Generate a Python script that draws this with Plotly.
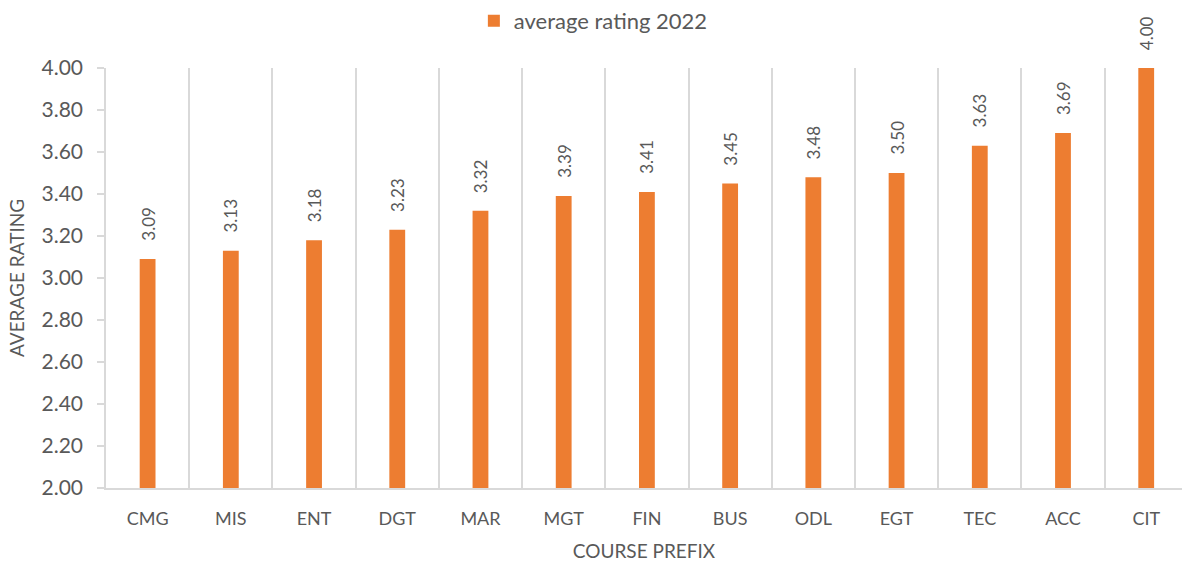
import plotly.graph_objects as go

categories = ["CMG", "MIS", "ENT", "DGT", "MAR", "MGT", "FIN", "BUS", "ODL", "EGT", "TEC", "ACC", "CIT"]
ratings_2022 = [3.09, 3.13, 3.18, 3.23, 3.32, 3.39, 3.41, 3.45, 3.48, 3.50, 3.63, 3.69, 4.00]
y_ticks = [2.0, 2.2, 2.4, 2.6, 2.8, 3.0, 3.2, 3.4, 3.6, 3.8, 4.0]

FONT = "Lato"
TXT = "#595959"
GRID = "#d9d9d9"

fig = go.Figure()
fig.add_trace(go.Bar(
    x=categories,
    y=ratings_2022,
    name="average rating 2022",
    marker=dict(color="#ED7D31", line=dict(width=0)),
    width=0.19,
))

for c, v in zip(categories, ratings_2022):
    fig.add_annotation(
        x=c, y=v, text=f"{v:.2f}", textangle=-90,
        showarrow=False, xanchor="center", yanchor="bottom",
        yshift=16, font=dict(family=FONT, size=17, color=TXT),
    )

fig.update_layout(
    width=1182,
    height=565,
    margin=dict(l=106, r=0, t=68, b=77),
    paper_bgcolor="white",
    plot_bgcolor="white",
    font=dict(family=FONT, color=TXT),
    showlegend=True,
    legend=dict(
        orientation="h",
        xref="container", yref="container",
        x=0.502, xanchor="center",
        y=1.0, yanchor="top",
        font=dict(family=FONT, size=22, color=TXT),
        itemwidth=30,
    ),
    xaxis=dict(
        range=[-0.5, 12.43],
        tickson="boundaries",
        automargin=False,
        showgrid=True,
        gridcolor=GRID,
        gridwidth=1.5,
        showline=True,
        linecolor=GRID,
        linewidth=1.5,
        ticks="",
        ticklabelstandoff=14,
        tickfont=dict(family=FONT, size=18, color=TXT),
        title=dict(text="COURSE PREFIX", font=dict(family=FONT, size=19, color=TXT), standoff=16),
    ),
    yaxis=dict(
        range=[2.0, 4.0],
        tickvals=y_ticks,
        tickformat=".2f",
        automargin=False,
        showgrid=False,
        zeroline=False,
        showline=True,
        linecolor=GRID,
        linewidth=1.5,
        ticks="outside",
        ticklen=7,
        tickcolor=GRID,
        tickwidth=1.5,
        ticklabelstandoff=10,
        tickfont=dict(family=FONT, size=21, color=TXT),
        title=dict(text="AVERAGE RATING", font=dict(family=FONT, size=19, color=TXT), standoff=12),
    ),
    bargap=0.81,
)

fig.write_html("out.html", config={"displayModeBar": False},
               post_script="document.body.style.margin='0';")
